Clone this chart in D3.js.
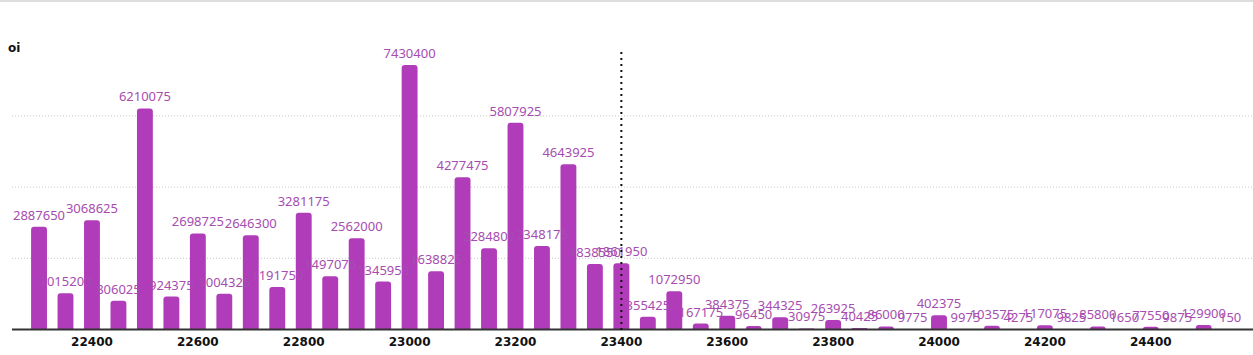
<!DOCTYPE html>
<html>
<head>
<meta charset="utf-8">
<script src="https://cdn.jsdelivr.net/npm/d3@7"></script>
<style>
  html, body { margin: 0; padding: 0; background: #fff; }
  svg { display: block; }
</style>
</head>
<body>
<svg id="chart" width="1253" height="355"></svg>
<script>
const strikes = [22300,22350,22400,22450,22500,22550,22600,22650,22700,22750,
  22800,22850,22900,22950,23000,23050,23100,23150,23200,23250,
  23300,23350,23400,23450,23500,23550,23600,23650,23700,23750,
  23800,23850,23900,23950,24000,24050,24100,24150,24200,24250,
  24300,24350,24400,24450,24500,24550];
const oi = [2887650,1015200,3068625,806025,6210075,924375,2698725,1004325,2646300,1191750,
  3281175,1497075,2562000,1345950,7430400,1638825,4277475,2284800,5807925,2348175,
  4643925,1838550,1861950,355425,1072950,167175,384375,96450,344325,30975,
  263925,40425,86000,9775,402375,9975,103575,4275,117075,9825,
  85800,1650,77550,9875,129900,150];
const xTicks = [22400,22600,22800,23000,23200,23400,23600,23800,24000,24200,24400];
const gridValues = [2000000,4000000,6000000];
const markerStrike = 23400;
const title = "oi";

const W = 1253, H = 355;
const svg = d3.select("#chart");
const barColor = "#b03cb9";
const labelColor = "#a64db0";

const x = d3.scaleBand().domain(strikes).range([20.5, 1248.7]).padding(0.4);
const y = d3.scaleLinear().domain([0, 8000000]).range([329.5, 44.7]);

// top border line
svg.append("line").attr("x1", 0).attr("x2", W).attr("y1", 1).attr("y2", 1)
  .attr("stroke", "#dddddd").attr("stroke-width", 2);

// grid lines
svg.append("g").selectAll("line").data(gridValues).join("line")
  .attr("x1", 12).attr("x2", W)
  .attr("y1", d => y(d)).attr("y2", d => y(d))
  .attr("stroke", "#c8c8c8").attr("stroke-width", 1)
  .attr("stroke-dasharray", "1,2");

// bars with rounded tops
function barPath(d, i) {
  const x0 = x(strikes[i]), w = x.bandwidth();
  const yt = y(d), yb = y(0);
  const h = yb - yt;
  const r = Math.min(3, h, w / 2);
  return `M${x0},${yb}V${yt + r}Q${x0},${yt} ${x0 + r},${yt}H${x0 + w - r}Q${x0 + w},${yt} ${x0 + w},${yt + r}V${yb}Z`;
}
svg.append("g").selectAll("path").data(oi).join("path")
  .attr("d", (d, i) => barPath(d, i))
  .attr("fill", barColor);

// value labels
svg.append("g").selectAll("text").data(oi).join("text")
  .attr("x", (d, i) => x(strikes[i]) + x.bandwidth() / 2)
  .attr("y", d => y(d) - 7)
  .attr("text-anchor", "middle")
  .attr("font-family", "'Noto Sans', sans-serif")
  .attr("font-size", 13)
  .attr("fill", labelColor)
  .text(d => d);

// x axis
const xAxis = d3.axisBottom(x).tickValues(xTicks).tickSize(0).tickPadding(8);
const gx = svg.append("g").attr("transform", `translate(0,${y(0)})`).call(xAxis);
gx.select(".domain").remove();
gx.selectAll("text")
  .attr("font-family", "'DejaVu Sans', sans-serif")
  .attr("font-weight", "bold")
  .attr("font-size", 12)
  .attr("fill", "#111");
svg.append("line").attr("x1", 12).attr("x2", W)
  .attr("y1", y(0)).attr("y2", y(0))
  .attr("stroke", "#333").attr("stroke-width", 2);

// marker dotted line
const mx = x(markerStrike) + x.bandwidth() / 2;
svg.append("line").attr("x1", mx).attr("x2", mx)
  .attr("y1", 52).attr("y2", y(0) + 4)
  .attr("stroke", "#111").attr("stroke-width", 2)
  .attr("stroke-dasharray", "2,4");

// title
svg.append("text").attr("x", 8).attr("y", 52)
  .attr("font-family", "'DejaVu Sans', sans-serif")
  .attr("font-weight", "bold").attr("font-size", 12)
  .attr("fill", "#111").text(title);
</script>
</body>
</html>
